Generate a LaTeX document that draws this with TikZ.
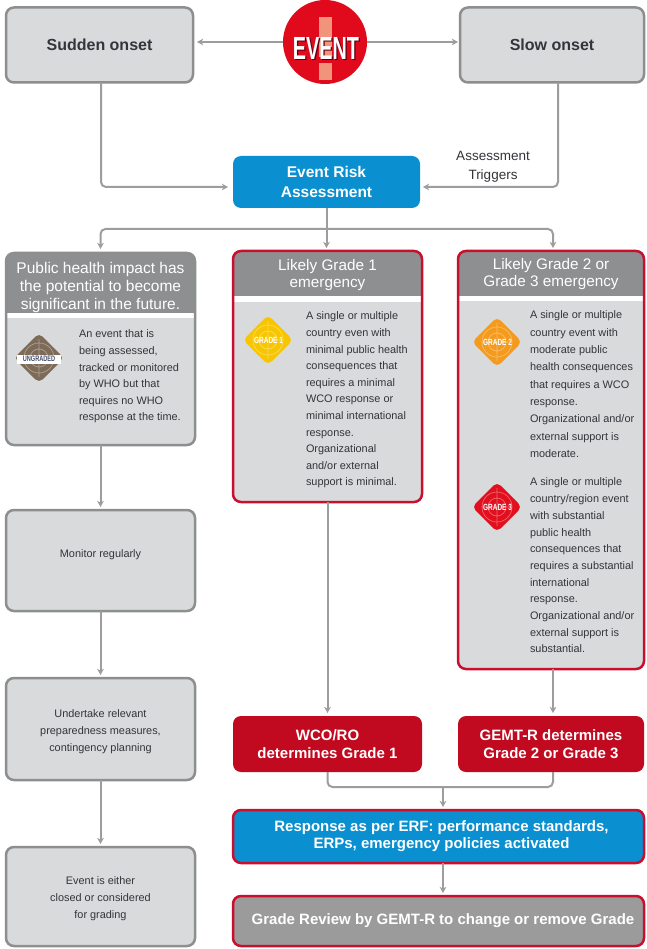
\documentclass[tikz,border=0pt]{standalone}
\usepackage{fontspec}
\setmainfont{Liberation Sans}
\usepackage{graphicx}
\usetikzlibrary{arrows.meta,calc}
\definecolor{boxgray}{HTML}{D9DADC}
\definecolor{bordergray}{HTML}{8D8E90}
\definecolor{headgray}{HTML}{8E8F91}
\definecolor{linegray}{HTML}{9D9D9F}
\definecolor{erablue}{HTML}{0A8FD0}
\definecolor{wred}{HTML}{C8102E}
\definecolor{dred}{HTML}{C10A1F}
\definecolor{revgray}{HTML}{9B9B9C}
\definecolor{txt}{HTML}{34343A}
\definecolor{evred}{HTML}{E00A1C}
\definecolor{exclam}{HTML}{F2947C}
\definecolor{evshade}{HTML}{5A0012}
\definecolor{ungr}{HTML}{7D6B57}
\definecolor{ungrtxt}{HTML}{46506E}
\definecolor{gone}{HTML}{F8C600}
\definecolor{gtwo}{HTML}{F49A1C}
\definecolor{gthree}{HTML}{E2101E}
\newcommand\fsz[2]{\fontsize{#1}{#2}\selectfont}
\newcommand\emblem[2]{%
  \draw[white, opacity=0.35, line width=0.7pt] (#1,#2) circle (15pt) (#1,#2) circle (9pt)
    (#1,#2-19) -- (#1,#2+19) (#1-15,#2) -- (#1+15,#2);}
\newcommand\gradeicon[5]{%
  \fill[#3, rounded corners=5pt] (#1,#2-25) -- (#1+25,#2) -- (#1,#2+25) -- (#1-25,#2) -- cycle;
  \emblem{#1}{#2}
  \node[font=\bfseries\fsz{9}{9}, text=white] (#4) at (#1+0.5,#2) {\scalebox{0.72}[1]{#5}};}
\begin{document}
\begin{tikzpicture}[x=1pt,y=-1pt,
 every node/.style={inner sep=0pt, outer sep=0pt},
 graybox/.style={draw=bordergray, line width=2.5pt, fill=boxgray, rounded corners=8pt, align=center, text=txt},
 bluebox/.style={fill=erablue, rounded corners=8pt, align=center, text=white, font=\bfseries\fsz{15.5}{20}},
 redbox/.style={fill=dred, rounded corners=8pt, align=center, text=white, font=\bfseries\fsz{15}{18}},
 panelfill/.style={fill=boxgray, rounded corners=8pt},
 conn/.style={draw=linegray, line width=2pt, rounded corners=5pt},
 arr/.style={conn, -{Stealth[length=6pt,width=6.5pt,inset=1.5pt]}, shorten >=3pt},
 headtext/.style={text=white, align=center},
 bodytext/.style={text=txt, align=left, anchor=north west},
 smalltext/.style={text=txt, align=center, font=\fsz{10.9}{16.7}},
]
\useasboundingbox (0,0) rectangle (646,949);
\fill[white] (0,0) rectangle (646,949);

% top row
\node[graybox, minimum width=187pt, minimum height=75pt, font=\bfseries\fsz{16}{19}] (sudden) at (99.5,45) {Sudden onset};
\node[graybox, minimum width=184pt, minimum height=75pt, font=\bfseries\fsz{16}{19}] (slow) at (552,45) {Slow onset};

\node[circle, fill=evred, minimum size=84pt] (ev) at (325,42) {};
\fill[exclam] (319,17) rectangle (332,57);
\fill[exclam] (319,63) rectangle (332,80);
\node[font=\bfseries\fsz{32}{32}, text=evshade] (evshadow) at (327.2,49.7) {\scalebox{0.62}[1]{EVENT}};
\node[font=\bfseries\fsz{32}{32}, text=white] (evtext) at (326,48.5) {\scalebox{0.62}[1]{EVENT}};

\node[bluebox, minimum width=187pt, minimum height=52pt] (era) at (326.5,182) {Event Risk\\Assessment};
\node[text=txt, font=\fsz{13.5}{19}, align=center] (trig) at (493,166.5) {Assessment\\Triggers};

% left panel
\node[panelfill, minimum width=189pt, minimum height=192pt] (lp) at (100.5,349) {};
\begin{scope}
 \clip[rounded corners=8pt] (lp.north west) rectangle (lp.south east);
 \fill[headgray] (lp.north west) rectangle (195,313);
 \fill[white] (6,313) rectangle (195,318);
\end{scope}
\draw[bordergray, line width=2.5pt, rounded corners=8pt] (lp.north west) rectangle (lp.south east);
\node[headtext, font=\fsz{15.5}{18}] (lph) at (100.5,287) {Public health impact has\\the potential to become\\significant in the future.};
\node[bodytext, font=\fsz{10.9}{16.6}] (lpt) at (79,330) {An event that is\\being assessed,\\tracked or monitored\\by WHO but that\\requires no WHO\\response at the time.};
\fill[ungr, rounded corners=5pt] (39,333) -- (64,358) -- (39,383) -- (14,358) -- cycle;
\emblem{39}{358}
\fill[white] (17,354.5) rectangle (61,363.5);
\node[font=\bfseries\fsz{8}{8}, text=ungrtxt] (ungl) at (39,359) {\scalebox{0.7}[1]{UNGRADED}};

% middle panel
\node[panelfill, minimum width=189pt, minimum height=251pt] (mp) at (327.5,376.5) {};
\begin{scope}
 \clip[rounded corners=8pt] (mp.north west) rectangle (mp.south east);
 \fill[headgray] (mp.north west) rectangle (422,296);
 \fill[white] (233,296) rectangle (422,302);
\end{scope}
\draw[wred, line width=2.5pt, rounded corners=8pt] (mp.north west) rectangle (mp.south east);
\node[headtext, font=\fsz{15.3}{17}] (mph) at (327.5,275.5) {Likely Grade 1\\emergency};
\gradeicon{268}{340}{gone}{g1l}{GRADE 1}
\node[bodytext, font=\fsz{10.9}{16.6}] (mpt) at (306,312) {A single or multiple\\country even with\\minimal public health\\consequences that\\requires a minimal\\WCO response or\\minimal international\\response.\\Organizational\\and/or external\\support is minimal.};

% right panel
\node[panelfill, minimum width=186pt, minimum height=418pt] (rp) at (551,460) {};
\begin{scope}
 \clip[rounded corners=8pt] (rp.north west) rectangle (rp.south east);
 \fill[headgray] (rp.north west) rectangle (644,296);
 \fill[white] (458,296) rectangle (644,301);
\end{scope}
\draw[wred, line width=2.5pt, rounded corners=8pt] (rp.north west) rectangle (rp.south east);
\node[headtext, font=\fsz{15.3}{17}] (rph) at (551,274.5) {Likely Grade 2 or\\Grade 3 emergency};
\gradeicon{497}{342}{gtwo}{g2l}{GRADE 2}
\gradeicon{497}{507}{gthree}{g3l}{GRADE 3}
\node[bodytext, font=\fsz{10.9}{17.3}] (rpt1) at (530,311) {A single or multiple\\country event with\\moderate public\\health consequences\\that requires a WCO\\response.\\Organizational and/or\\external support is\\moderate.};
\node[bodytext, font=\fsz{10.9}{16.7}] (rpt2) at (530,478) {A single or multiple\\country/region event\\with substantial\\public health\\consequences that\\requires a substantial\\international\\response.\\Organizational and/or\\external support is\\substantial.};

% left column
\node[graybox, minimum width=189pt, minimum height=101pt] (mon) at (100.5,560.5) {};
\node[smalltext] (mont) at (100.5,555) {Monitor regularly};
\node[graybox, minimum width=189pt, minimum height=102pt] (und) at (100.5,729) {};
\node[smalltext] (undt) at (100.5,731.5) {Undertake relevant\\preparedness measures,\\contingency planning};
\node[graybox, minimum width=189pt, minimum height=99pt] (eith) at (100.5,896.5) {};
\node[smalltext] (eitht) at (100.5,898.5) {Event is either\\closed or considered\\for grading};

% red boxes
\node[redbox, minimum width=189pt, minimum height=56pt] (wco) at (327.5,744) {WCO/RO\\determines Grade 1};
\node[redbox, minimum width=186pt, minimum height=56pt] (gemt) at (551,744) {GEMT-R determines\\Grade 2 or Grade 3};
\node[fill=erablue, draw=wred, line width=2.5pt, rounded corners=8pt, minimum width=411pt, minimum height=53pt, text=white, font=\bfseries\fsz{15}{17}, align=center] (resp) at (438.5,836.5) {\hspace*{6pt}Response as per ERF: performance standards,\\\hspace*{6pt}ERPs, emergency policies activated};
\node[fill=revgray, draw=wred, line width=2.5pt, rounded corners=8pt, minimum width=411pt, minimum height=50pt, text=white, font=\bfseries\fsz{15}{17}, align=center] (rev) at (438.5,921) {\hspace*{9pt}Grade Review by GEMT-R to change or remove Grade};

% connectors
\draw[arr, shorten >=4pt] (ev.west) -- (ev.west -| sudden.east);
\draw[arr, shorten >=2pt] (ev.east) -- (ev.east -| slow.west);
\draw[arr, shorten >=5pt] ([xshift=1.5pt]sudden.south) |- ($(era.west)+(0,5)$);
\draw[arr, shorten >=3pt] ([xshift=6pt]slow.south) |- ($(era.east)+(0,5)$);
\coordinate (j) at (326.5,229);
\draw[conn] (era.south) -- (j);
\draw[arr, shorten >=4pt] (j) -| (lp.north);
\draw[arr] (j) -| ([xshift=2pt]rp.north);
\draw[arr] (j) -- (j |- mp.north);
\draw[arr] (lp.south) -- (mon.north);
\draw[arr] (mon.south) -- (und.north);
\draw[arr] (und.south) -- (eith.north);
\draw[arr] (mp.south) -- (wco.north);
\draw[arr] ([xshift=2pt]rp.south) -- ([xshift=2pt]gemt.north);
\coordinate (k) at (443,787);
\draw[conn] (wco.south) |- (k);
\draw[conn] ([xshift=2pt]gemt.south) |- (k);
\draw[arr] (k) -- (k |- resp.north);
\draw[arr] (resp.south -| k) -- (rev.north -| k);
\end{tikzpicture}
\end{document}
